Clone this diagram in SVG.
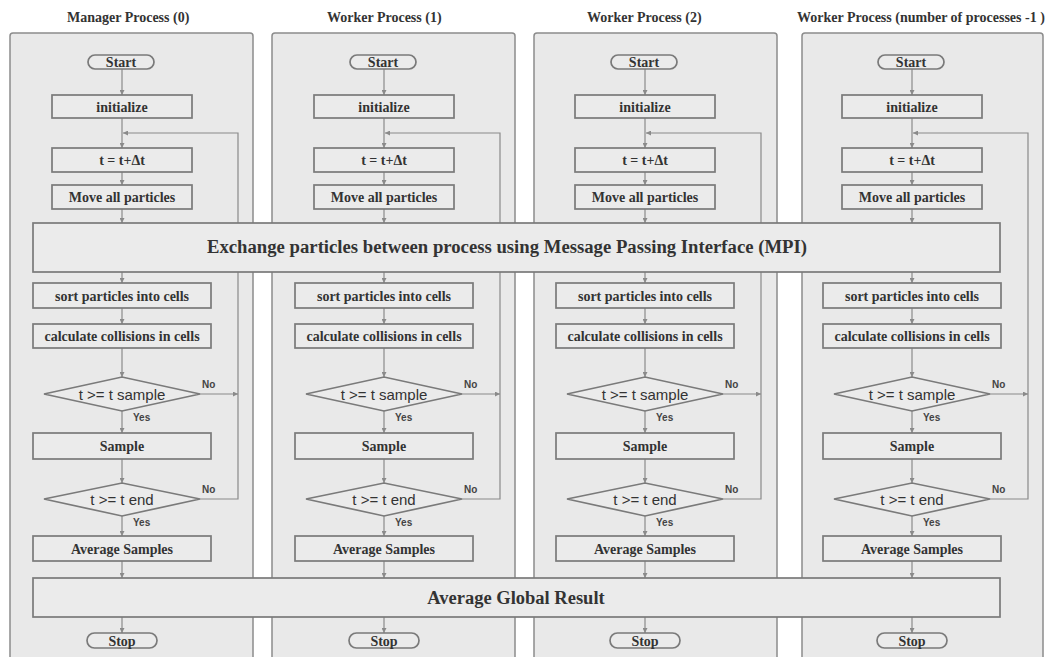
<svg xmlns="http://www.w3.org/2000/svg" width="1045" height="657" viewBox="0 0 1045 657">
<style>
.panel{fill:#e9e9e9;stroke:#8c8c8c;stroke-width:1.5}
.box{fill:#ebebeb;stroke:#7a7a7a;stroke-width:1.7}
.lbl{font-family:"Liberation Serif","Times New Roman",serif;font-weight:bold;font-size:14px;fill:#333;text-anchor:middle}
.big{font-family:"Liberation Serif","Times New Roman",serif;font-weight:bold;font-size:18.5px;fill:#333;text-anchor:middle}
.hdr{font-family:"Liberation Serif","Times New Roman",serif;font-weight:bold;font-size:14px;fill:#333}
.dlbl{font-family:"Liberation Sans",Arial,sans-serif;font-size:15px;fill:#333;text-anchor:middle}
.yn{font-family:"Liberation Sans",Arial,sans-serif;font-size:10px;font-weight:bold;fill:#444}
.conn{stroke:#8a8a8a;stroke-width:1.2;fill:none;marker-end:url(#ah)}
</style>
<defs>
<marker id="ah" markerUnits="userSpaceOnUse" markerWidth="6" markerHeight="5" refX="5" refY="2.5" orient="auto">
<path d="M0,0 L5,2.5 L0,5 z" fill="#8a8a8a"/>
</marker>
</defs>
<rect width="1045" height="657" fill="#ffffff"/>

<g id="headers">
<text class="hdr" x="67" y="22">Manager Process (0)</text>
<text class="hdr" x="327" y="22">Worker Process (1)</text>
<text class="hdr" x="587" y="22">Worker Process (2)</text>
<text class="hdr" x="797" y="22">Worker Process (number of processes -1 )</text>
</g>

<g id="panels">
<rect id="panel-0" class="panel" x="10" y="33" width="243" height="640" rx="3"/>
<rect id="panel-1" class="panel" x="272" y="33" width="243" height="640" rx="3"/>
<rect id="panel-2" class="panel" x="534" y="33" width="243" height="640" rx="3"/>
<rect id="panel-3" class="panel" x="802" y="33" width="241" height="640" rx="3"/>
</g>

<g id="connectors">
<g transform="translate(122,0)">
<path class="conn" d="M0,69 V95"/><path class="conn" d="M0,118 V148"/><path class="conn" d="M0,172 V185"/><path class="conn" d="M0,209 V223"/><path class="conn" d="M0,272 V283"/><path class="conn" d="M0,308 V324"/><path class="conn" d="M0,348 V377"/><path class="conn" d="M0,411 V433"/><path class="conn" d="M0,459 V483"/><path class="conn" d="M0,516 V536"/><path class="conn" d="M0,561 V578"/><path class="conn" d="M0,617 V633"/><path class="conn" d="M78,394 H116"/><path class="conn" d="M78,499 H116 V133 H1"/>
</g>
<g transform="translate(384,0)">
<path class="conn" d="M0,69 V95"/><path class="conn" d="M0,118 V148"/><path class="conn" d="M0,172 V185"/><path class="conn" d="M0,209 V223"/><path class="conn" d="M0,272 V283"/><path class="conn" d="M0,308 V324"/><path class="conn" d="M0,348 V377"/><path class="conn" d="M0,411 V433"/><path class="conn" d="M0,459 V483"/><path class="conn" d="M0,516 V536"/><path class="conn" d="M0,561 V578"/><path class="conn" d="M0,617 V633"/><path class="conn" d="M78,394 H116"/><path class="conn" d="M78,499 H116 V133 H1"/>
</g>
<g transform="translate(645,0)">
<path class="conn" d="M0,69 V95"/><path class="conn" d="M0,118 V148"/><path class="conn" d="M0,172 V185"/><path class="conn" d="M0,209 V223"/><path class="conn" d="M0,272 V283"/><path class="conn" d="M0,308 V324"/><path class="conn" d="M0,348 V377"/><path class="conn" d="M0,411 V433"/><path class="conn" d="M0,459 V483"/><path class="conn" d="M0,516 V536"/><path class="conn" d="M0,561 V578"/><path class="conn" d="M0,617 V633"/><path class="conn" d="M78,394 H116"/><path class="conn" d="M78,499 H116 V133 H1"/>
</g>
<g transform="translate(912,0)">
<path class="conn" d="M0,69 V95"/><path class="conn" d="M0,118 V148"/><path class="conn" d="M0,172 V185"/><path class="conn" d="M0,209 V223"/><path class="conn" d="M0,272 V283"/><path class="conn" d="M0,308 V324"/><path class="conn" d="M0,348 V377"/><path class="conn" d="M0,411 V433"/><path class="conn" d="M0,459 V483"/><path class="conn" d="M0,516 V536"/><path class="conn" d="M0,561 V578"/><path class="conn" d="M0,617 V633"/><path class="conn" d="M78,394 H116"/><path class="conn" d="M78,499 H116 V133 H1"/>
</g>
</g>

<g id="exchange"><rect class="box" x="33" y="223" width="967" height="49"/><text class="big" x="507" y="253" textLength="600" lengthAdjust="spacingAndGlyphs">Exchange particles between process using Message Passing Interface (MPI)</text></g>
<g id="global"><rect class="box" x="33" y="578" width="967" height="39"/><text class="big" x="516" y="604">Average Global Result</text></g>

<g id="col-0" transform="translate(122,0)">
<g id="start-0"><rect class="box" x="-34" y="55" width="66" height="14" rx="7"/><text class="lbl" x="-1" y="67">Start</text></g>
<g id="init-0"><rect class="box" x="-70" y="95" width="140" height="23"/><text class="lbl" x="0" y="111.5">initialize</text></g>
<g id="step-0"><rect class="box" x="-70" y="148" width="140" height="24"/><text class="lbl" x="0" y="165">t = t+Δt</text></g>
<g id="move-0"><rect class="box" x="-70" y="185" width="140" height="24"/><text class="lbl" x="0" y="202">Move all particles</text></g>
<g id="sort-0"><rect class="box" x="-89" y="283" width="178" height="25"/><text class="lbl" x="0" y="300.5">sort particles into cells</text></g>
<g id="calc-0"><rect class="box" x="-89" y="324" width="178" height="24"/><text class="lbl" x="0" y="341">calculate collisions in cells</text></g>
<g id="d1-0"><polygon class="box" points="-78,394 0,377 78,394 0,411"/><text class="dlbl" x="0" y="399.5">t &gt;= t sample</text><text class="yn" x="80" y="388">No</text><text class="yn" x="11" y="421">Yes</text></g>
<g id="sample-0"><rect class="box" x="-89" y="433" width="178" height="26"/><text class="lbl" x="0" y="451">Sample</text></g>
<g id="d2-0"><polygon class="box" points="-78,499 0,483 78,499 0,516"/><text class="dlbl" x="0" y="504.5">t &gt;= t end</text><text class="yn" x="80" y="493">No</text><text class="yn" x="11" y="526">Yes</text></g>
<g id="avg-0"><rect class="box" x="-89" y="536" width="178" height="25"/><text class="lbl" x="0" y="553.5">Average Samples</text></g>
<g id="stop-0"><rect class="box" x="-35" y="633" width="70" height="15" rx="7.5"/><text class="lbl" x="0" y="645.5">Stop</text></g>
</g>

<g id="col-1" transform="translate(384,0)">
<g id="start-1"><rect class="box" x="-34" y="55" width="66" height="14" rx="7"/><text class="lbl" x="-1" y="67">Start</text></g>
<g id="init-1"><rect class="box" x="-70" y="95" width="140" height="23"/><text class="lbl" x="0" y="111.5">initialize</text></g>
<g id="step-1"><rect class="box" x="-70" y="148" width="140" height="24"/><text class="lbl" x="0" y="165">t = t+Δt</text></g>
<g id="move-1"><rect class="box" x="-70" y="185" width="140" height="24"/><text class="lbl" x="0" y="202">Move all particles</text></g>
<g id="sort-1"><rect class="box" x="-89" y="283" width="178" height="25"/><text class="lbl" x="0" y="300.5">sort particles into cells</text></g>
<g id="calc-1"><rect class="box" x="-89" y="324" width="178" height="24"/><text class="lbl" x="0" y="341">calculate collisions in cells</text></g>
<g id="d1-1"><polygon class="box" points="-78,394 0,377 78,394 0,411"/><text class="dlbl" x="0" y="399.5">t &gt;= t sample</text><text class="yn" x="80" y="388">No</text><text class="yn" x="11" y="421">Yes</text></g>
<g id="sample-1"><rect class="box" x="-89" y="433" width="178" height="26"/><text class="lbl" x="0" y="451">Sample</text></g>
<g id="d2-1"><polygon class="box" points="-78,499 0,483 78,499 0,516"/><text class="dlbl" x="0" y="504.5">t &gt;= t end</text><text class="yn" x="80" y="493">No</text><text class="yn" x="11" y="526">Yes</text></g>
<g id="avg-1"><rect class="box" x="-89" y="536" width="178" height="25"/><text class="lbl" x="0" y="553.5">Average Samples</text></g>
<g id="stop-1"><rect class="box" x="-35" y="633" width="70" height="15" rx="7.5"/><text class="lbl" x="0" y="645.5">Stop</text></g>
</g>

<g id="col-2" transform="translate(645,0)">
<g id="start-2"><rect class="box" x="-34" y="55" width="66" height="14" rx="7"/><text class="lbl" x="-1" y="67">Start</text></g>
<g id="init-2"><rect class="box" x="-70" y="95" width="140" height="23"/><text class="lbl" x="0" y="111.5">initialize</text></g>
<g id="step-2"><rect class="box" x="-70" y="148" width="140" height="24"/><text class="lbl" x="0" y="165">t = t+Δt</text></g>
<g id="move-2"><rect class="box" x="-70" y="185" width="140" height="24"/><text class="lbl" x="0" y="202">Move all particles</text></g>
<g id="sort-2"><rect class="box" x="-89" y="283" width="178" height="25"/><text class="lbl" x="0" y="300.5">sort particles into cells</text></g>
<g id="calc-2"><rect class="box" x="-89" y="324" width="178" height="24"/><text class="lbl" x="0" y="341">calculate collisions in cells</text></g>
<g id="d1-2"><polygon class="box" points="-78,394 0,377 78,394 0,411"/><text class="dlbl" x="0" y="399.5">t &gt;= t sample</text><text class="yn" x="80" y="388">No</text><text class="yn" x="11" y="421">Yes</text></g>
<g id="sample-2"><rect class="box" x="-89" y="433" width="178" height="26"/><text class="lbl" x="0" y="451">Sample</text></g>
<g id="d2-2"><polygon class="box" points="-78,499 0,483 78,499 0,516"/><text class="dlbl" x="0" y="504.5">t &gt;= t end</text><text class="yn" x="80" y="493">No</text><text class="yn" x="11" y="526">Yes</text></g>
<g id="avg-2"><rect class="box" x="-89" y="536" width="178" height="25"/><text class="lbl" x="0" y="553.5">Average Samples</text></g>
<g id="stop-2"><rect class="box" x="-35" y="633" width="70" height="15" rx="7.5"/><text class="lbl" x="0" y="645.5">Stop</text></g>
</g>

<g id="col-3" transform="translate(912,0)">
<g id="start-3"><rect class="box" x="-34" y="55" width="66" height="14" rx="7"/><text class="lbl" x="-1" y="67">Start</text></g>
<g id="init-3"><rect class="box" x="-70" y="95" width="140" height="23"/><text class="lbl" x="0" y="111.5">initialize</text></g>
<g id="step-3"><rect class="box" x="-70" y="148" width="140" height="24"/><text class="lbl" x="0" y="165">t = t+Δt</text></g>
<g id="move-3"><rect class="box" x="-70" y="185" width="140" height="24"/><text class="lbl" x="0" y="202">Move all particles</text></g>
<g id="sort-3"><rect class="box" x="-89" y="283" width="178" height="25"/><text class="lbl" x="0" y="300.5">sort particles into cells</text></g>
<g id="calc-3"><rect class="box" x="-89" y="324" width="178" height="24"/><text class="lbl" x="0" y="341">calculate collisions in cells</text></g>
<g id="d1-3"><polygon class="box" points="-78,394 0,377 78,394 0,411"/><text class="dlbl" x="0" y="399.5">t &gt;= t sample</text><text class="yn" x="80" y="388">No</text><text class="yn" x="11" y="421">Yes</text></g>
<g id="sample-3"><rect class="box" x="-89" y="433" width="178" height="26"/><text class="lbl" x="0" y="451">Sample</text></g>
<g id="d2-3"><polygon class="box" points="-78,499 0,483 78,499 0,516"/><text class="dlbl" x="0" y="504.5">t &gt;= t end</text><text class="yn" x="80" y="493">No</text><text class="yn" x="11" y="526">Yes</text></g>
<g id="avg-3"><rect class="box" x="-89" y="536" width="178" height="25"/><text class="lbl" x="0" y="553.5">Average Samples</text></g>
<g id="stop-3"><rect class="box" x="-35" y="633" width="70" height="15" rx="7.5"/><text class="lbl" x="0" y="645.5">Stop</text></g>
</g>
</svg>
